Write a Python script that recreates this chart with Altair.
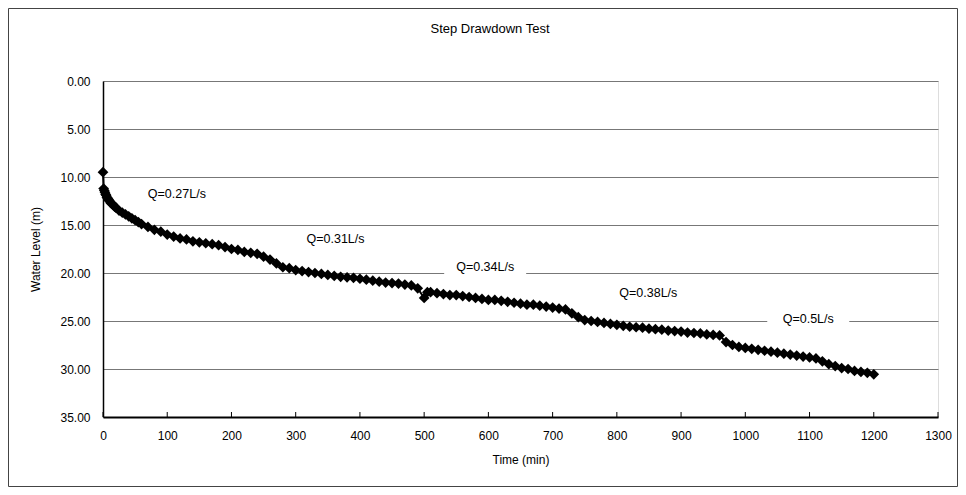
import altair as alt
import pandas as pd

# ---- data ----
time_min = [0, 1, 2, 3, 4, 5, 6, 7, 8, 9, 10, 12, 14, 16, 18, 20, 25, 30, 35, 40, 45, 50, 55, 60,
            70, 80, 90, 100, 110, 120, 130, 140, 150, 160, 170, 180, 190, 200, 210, 220, 230, 240,
            250, 260, 270, 280, 290, 300, 310, 320, 330, 340, 350, 360, 370, 380, 390, 400, 410,
            420, 430, 440, 450, 460, 470, 480,
            490, 500, 505, 510, 520, 530, 540, 550, 560, 570, 580, 590, 600, 610, 620, 630, 640,
            650, 660, 670, 680, 690, 700, 710, 720,
            730, 740, 750, 760, 770, 780, 790, 800, 810, 820, 830, 840, 850, 860, 870, 880, 890,
            900, 910, 920, 930, 940, 950, 960,
            970, 980, 990, 1000, 1010, 1020, 1030, 1040, 1050, 1060, 1070, 1080, 1090, 1100, 1110,
            1120, 1130, 1140, 1150, 1160, 1170, 1180, 1190, 1200]
water_level = [9.5, 11.2, 11.4, 11.6, 11.8, 11.9, 12.1, 12.2, 12.3, 12.4, 12.5, 12.7, 12.8, 12.9, 13.1, 13.2,
               13.5, 13.7, 13.9, 14.1, 14.3, 14.5, 14.7, 14.9,
               15.2, 15.5, 15.7, 16.0, 16.2, 16.4, 16.5, 16.7, 16.8, 16.9, 17.0, 17.1, 17.3, 17.5, 17.6,
               17.8, 17.9, 18.0,
               18.3, 18.6, 19.0, 19.4, 19.5, 19.7, 19.8, 19.9, 20.0, 20.1, 20.2, 20.3, 20.4, 20.45, 20.5,
               20.6, 20.7, 20.8, 20.9, 21.0, 21.05, 21.1, 21.2, 21.3,
               21.6, 22.6, 22.0, 22.0, 22.1, 22.2, 22.3, 22.3, 22.4, 22.5, 22.6, 22.7, 22.8, 22.8, 22.9,
               23.0, 23.1, 23.2, 23.3, 23.3, 23.4, 23.5, 23.6, 23.7, 23.8,
               24.2, 24.6, 24.9, 25.0, 25.1, 25.2, 25.3, 25.4, 25.5, 25.6, 25.65, 25.7, 25.8, 25.85,
               25.9, 26.0, 26.05, 26.1, 26.2, 26.25, 26.3, 26.4, 26.45, 26.5,
               27.2, 27.5, 27.7, 27.8, 27.9, 28.0, 28.1, 28.2, 28.3, 28.4, 28.5, 28.6, 28.7, 28.8, 28.9,
               29.2, 29.5, 29.7, 29.9, 30.0, 30.2, 30.3, 30.4, 30.55]

label_text = ["Q=0.27L/s", "Q=0.31L/s", "Q=0.34L/s", "Q=0.38L/s", "Q=0.5L/s"]
label_time = [115, 362, 595, 849, 1098]
label_level = [11.8, 16.5, 19.4, 22.1, 24.75]

x_tick_values = [0, 100, 200, 300, 400, 500, 600, 700, 800, 900, 1000, 1100, 1200, 1300]
y_tick_values = [0, 5, 10, 15, 20, 25, 30, 35]

chart_title = "Step Drawdown Test"

# ---- build ----
W, H = 835, 336
FONT = "Liberation Sans"

series = pd.DataFrame({"t": time_min, "wl": water_level})
labels = pd.DataFrame({"label": label_text, "t": label_time, "wl": label_level})
xticks = pd.DataFrame({"t": x_tick_values})
one = pd.DataFrame({"a": [0]})

xscale = alt.Scale(domain=[0, 1300], nice=False, zero=False)
yscale = alt.Scale(domain=[0, 35], reverse=True, nice=False, zero=False)

xaxis = alt.Axis(values=x_tick_values, format="d", title="Time (min)", grid=False, ticks=False,
                 labelPadding=13, labelFontSize=12, labelFont=FONT, labelColor="#000",
                 titleFontSize=12, titleFont=FONT, titleFontWeight="normal", titleColor="#000",
                 titleX=W / 2, titleY=42, titleBaseline="middle",
                 domainColor="#000", domainWidth=2, labelFlush=False)
yaxis = alt.Axis(values=y_tick_values, format=".2f", title="Water Level (m)", grid=True,
                 gridColor="#777", gridWidth=1, ticks=False, labelPadding=13,
                 labelFontSize=12, labelFont=FONT, labelColor="#000",
                 titleFontSize=12, titleFont=FONT, titleFontWeight="normal", titleColor="#000",
                 titleX=-68, titleY=H / 2, titleAngle=-90, titleAlign="center",
                 titleBaseline="middle", domainColor="#000", domainWidth=1.5)

base_line = alt.Chart(series).mark_line(
    color="#000", strokeWidth=2,
    point=alt.OverlayMarkDef(shape="diamond", size=115, filled=True, color="#000", opacity=1),
).encode(
    x=alt.X("t:Q", scale=xscale, axis=xaxis),
    y=alt.Y("wl:Q", scale=yscale, axis=yaxis),
)

boxes = alt.Chart(labels).mark_point(
    shape="M-1,-0.2L1,-0.2L1,0.2L-1,0.2Z", size=82 * 82, filled=True,
    color="white", opacity=1, strokeWidth=0,
).encode(x=alt.X("t:Q", scale=xscale), y=alt.Y("wl:Q", scale=yscale))

texts = alt.Chart(labels).mark_text(
    font=FONT, fontSize=12.5, color="#000", align="center", baseline="middle",
).encode(x=alt.X("t:Q", scale=xscale), y=alt.Y("wl:Q", scale=yscale), text="label:N")

inner_ticks = alt.Chart(xticks).mark_rule(color="#000", strokeWidth=1).encode(
    x=alt.X("t:Q", scale=xscale), y=alt.value(H), y2=alt.value(H - 5)
)

title = alt.Chart(one).mark_text(
    font=FONT, fontSize=13, color="#000", align="center", baseline="middle",
    text=chart_title,
).encode(x=alt.value(387), y=alt.value(-52))

frame = alt.Chart(one).mark_rect(
    fillOpacity=0, stroke="#444", strokeWidth=1,
).encode(x=alt.value(-94.5), x2=alt.value(854.5), y=alt.value(-72.5), y2=alt.value(405.5))

chart = alt.layer(frame, boxes, texts, inner_ticks, base_line, title).properties(
    width=W, height=H,
    padding={"left": 95, "top": 73, "right": 20, "bottom": 70},
    autosize=alt.AutoSizeParams(type="none"),
).configure_view(stroke="#000", strokeWidth=1).configure(background="white")

chart.save("out.html", embed_options={"renderer": "svg", "actions": False})
